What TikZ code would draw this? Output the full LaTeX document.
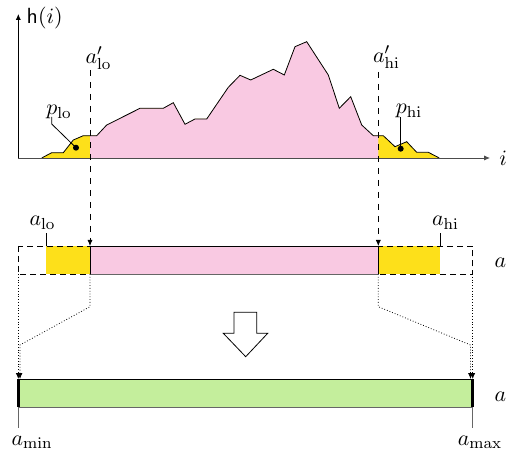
\documentclass[tikz,border=0pt]{standalone}
\usepackage{amsmath}
\usetikzlibrary{arrows.meta}

\definecolor{histpink}{HTML}{F9C9E2}
\definecolor{histyellow}{HTML}{FDE01A}
\definecolor{rangegreen}{HTML}{C4EE9C}

\begin{document}
\begin{tikzpicture}[
    x=0.5pt, y=-0.5pt,
    every node/.style={inner sep=0pt, font=\fontsize{10.8}{13}\selectfont},
    axis/.style={-{Latex[length=3pt,width=2.6pt]}, thin},
    guide/.style={-{Latex[length=3pt,width=2.6pt]}, dashed, thin},
    mapping/.style={-{Latex[length=3pt,width=2.6pt]}, densely dotted, thin},
    tick/.style={thin, black!60},
    edge/.style={line width=1.5pt},
    dot/.style={circle, fill, minimum size=3pt}
]
\useasboundingbox (0,0) rectangle (507,453);

% histogram
\def\histcurve{(41.7,158) -- (51.7,152.7) -- (63.3,152.7) -- (73.3,140) -- (83.3,135.7)
  -- (96.7,135.7) -- (106.7,125) -- (140,108.3) -- (163.3,108.3) -- (173.3,102.7)
  -- (185,124.3) -- (195,119) -- (206.7,119) -- (228.3,87.3) -- (240,75.3)
  -- (250.7,80) -- (273.3,69.3) -- (284.3,75) -- (295,46.7) -- (306.7,41.7)
  -- (328.3,75) -- (339.3,108.3) -- (350.7,96.7) -- (361.7,125) -- (373.3,135.7)
  -- (383.3,135.7) -- (395,146.7) -- (406.7,141.7) -- (416.7,152.3) -- (428.3,152.3)
  -- (439.3,158)}
\fill[histyellow] \histcurve -- cycle;
\begin{scope}
  \clip (90,0) rectangle (378.3,160);
  \fill[histpink] \histcurve -- cycle;
\end{scope}
\draw[thin] \histcurve;

\coordinate (origin) at (18.3,158);
\draw[axis, black!70] (origin) -- (490,158) node[right=4.5pt, black] (ilabel) {$i$};
\draw[axis] (origin) -- (18.3,14) node[anchor=west, xshift=4pt, yshift=-2pt] (hlabel) {$\mathsf{h}(i)$};

% cut positions
\node (alop) at (98.5,58) {$a'_{\mathrm{lo}}$};
\node (ahip) at (386.5,57) {$a'_{\mathrm{hi}}$};
\coordinate (alotop) at (90,70);
\coordinate (ahitop) at (378.3,72);

% tail masses
\node (plo) at (59,112) {$p_{\mathrm{lo}}$};
\node (phi) at (409,111) {$p_{\mathrm{hi}}$};
\node[dot] (plodot) at (76,147.7) {};
\node[dot] (phidot) at (400.7,148.7) {};
\coordinate (plobend) at (51.7,124);
\draw[thin] (51.7,117) -- (plobend) -- (plodot.center);
\draw[thin] (400.7,117) -- (phidot.center);

% clipped range bar
\coordinate (barnw) at (18.3,246);
\coordinate (barse) at (472.7,274);
\coordinate (alo) at (46,246);
\coordinate (ahi) at (440,246);
\coordinate (corenw) at (90,246);
\coordinate (corene) at (378.3,246);
\coordinate (coresw) at (90,274);
\coordinate (corese) at (378.3,274);
\fill[histyellow] (alo) rectangle (coresw);
\fill[histyellow] (corene) rectangle (440,274);
\fill[histpink] (corenw) rectangle (corese);
\draw[densely dashed, thin] (barnw) rectangle (barse);
\draw[thin] (coresw) -- (corenw) -- (corene) -- (corese);
\draw[thin, black!60] (coresw) -- (corese);
\node (alolabel) at (42.5,223) {$a_{\mathrm{lo}}$};
\node (ahilabel) at (445.5,223) {$a_{\mathrm{hi}}$};
\draw[thin] (alo) -- ++(0,-13);
\draw[thin] (ahi) -- ++(0,-13);
\node (aone) at (500.5,263) {$a$};

\draw[guide] (alotop) -- (corenw);
\draw[guide] (ahitop) -- (corene);

% stretched range bar
\coordinate (minnw) at (18.3,379);
\coordinate (minsw) at (18.3,407.3);
\coordinate (maxne) at (472.7,379);
\coordinate (maxse) at (472.7,407.3);
\fill[rangegreen] (minnw) rectangle (maxse);
\draw[thin] (minnw) -- (maxne);
\draw[thin, black!60] (minsw) -- (maxse);
\draw[edge] (minnw) -- (minsw);
\draw[edge] (maxne) -- (maxse);
\draw[tick] (minsw) -- ++(0,21);
\draw[tick] (maxse) -- ++(0,21);
\node (amin) at (32,442) {$a_{\mathrm{min}}$};
\node (amax) at (480,442) {$a_{\mathrm{max}}$};
\node (atwo) at (500.5,396.7) {$a$};

\draw[mapping] (18.3,274) -- (minnw);
\draw[mapping] (coresw) -- (90,306.7) -- (20,345) -- (20,379);
\draw[mapping] (472.7,274) -- (maxne);
\draw[mapping] (corese) -- (378.3,306.7) -- (470.5,345) -- (470.5,379);

% big arrow
\draw[thin, fill=white] (234,312.3) -- (256.7,312.3) -- (256.7,333.3) -- (267.7,333.3)
  -- (245.7,356.7) -- (223.3,333.3) -- (234,333.3) -- cycle;
\end{tikzpicture}
\end{document}
